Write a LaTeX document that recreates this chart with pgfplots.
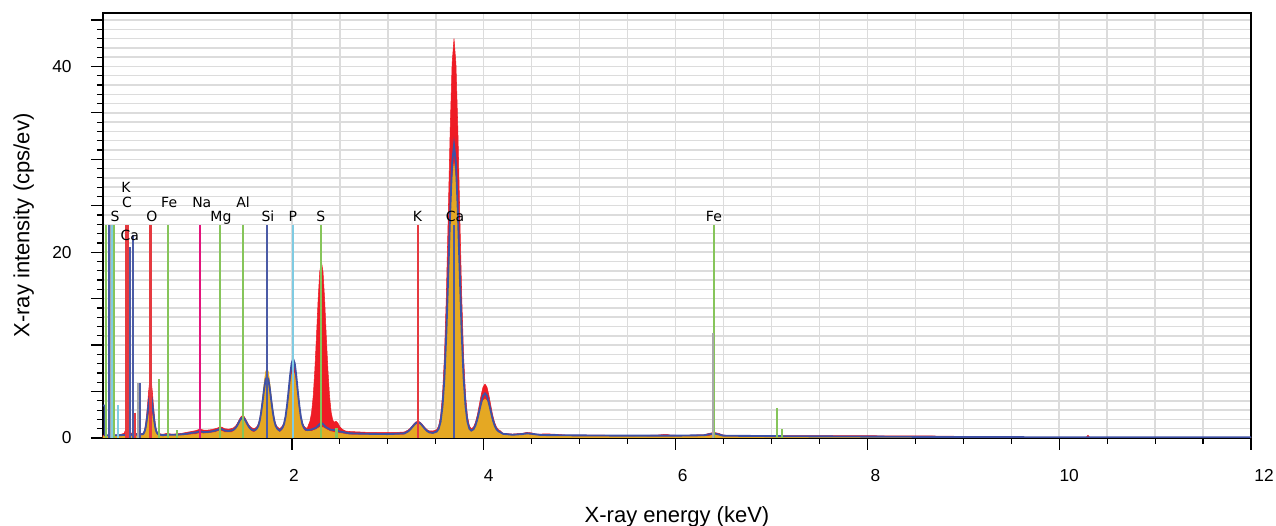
\documentclass[border=0pt]{standalone}
\usepackage{fontspec}
\setmainfont{Liberation Sans}
\newfontfamily\lblfont{DejaVu Sans}
\usepackage{pgfplots}
\pgfplotsset{compat=1.18}

\definecolor{specred}{HTML}{EE1C25}
\definecolor{specblue}{HTML}{3F51A5}
\definecolor{specgold}{HTML}{E5A823}
\definecolor{mkgreen}{HTML}{86C55A}
\definecolor{mkred}{HTML}{E53A40}
\definecolor{mkblue}{HTML}{4B5BA6}
\definecolor{mkcyan}{HTML}{7FCBE2}
\definecolor{mkmag}{HTML}{E4137B}
\definecolor{mkgray}{HTML}{A8A8A8}
\definecolor{gridgray}{HTML}{DCDCDC}

\begin{document}
\begin{tikzpicture}
\begin{axis}[
    scale only axis,
    width=861pt, height=318.75pt,
    xmin=0.03, xmax=12,
    ymin=0, ymax=45.75,
    xtick={2,4,...,12},
    xticklabels={\hspace*{3pt}2,\hspace*{7.5pt}4,\hspace*{10.5pt}6,\hspace*{12pt}8,\hspace*{15pt}10,\hspace*{19.5pt}12},
    minor x tick num=3,
    ytick={0,5,...,45},
    yticklabels={0,,,,20,,,,40,},
    minor y tick num=4,
    grid=both,
    every axis grid/.style={gridgray, line width=1.1pt},
    every major grid/.style={gridgray, line width=1.1pt},
    every minor grid/.style={gridgray, line width=1.1pt},
    tick align=outside,
    tick pos=left,
    major tick length=9pt,
    minor tick length=4.5pt,
    every tick/.style={black, line width=0.9pt},
    axis line style={black, line width=1pt},
    tick label style={font=\fontsize{13}{15}\selectfont},
    xticklabel style={yshift=-11pt},
    yticklabel style={xshift=-11pt},
    /pgf/number format/assume math mode=true,
    label style={font=\fontsize{16.5}{19}\selectfont},
    xlabel={X-ray energy (keV)},
    ylabel={X-ray intensity (cps/ev)},
    xlabel style={at={(axis description cs:0.5,-0.185)}, anchor=center},
    ylabel style={at={(axis description cs:-0.0690,0.5)}, anchor=center},
]

% spectrum 1 (red)
\addplot[draw=specred, line width=0.4pt, fill=specred] coordinates {
(0.03,0.3)(0.1,0.3)(0.2,0.35)(0.25,0.5)(0.27,1.0)(0.29,0.7)(0.33,0.5)(0.36,0.6)(0.365,2.7)(0.37,0.5)(0.41,0.45)
(0.445,0.49)(0.455,0.64)(0.465,0.93)(0.475,1.52)(0.485,2.47)(0.495,3.65)(0.505,4.94)(0.515,5.95)(0.525,6.3)(0.535,5.95)(0.545,4.94)(0.555,3.65)(0.565,2.47)(0.575,1.52)(0.585,0.93)(0.595,0.64)(0.605,0.49)
(0.65,0.4)(0.7,0.5)(0.75,0.4)(0.8,0.45)(0.85,0.5)(0.9,0.6)(0.95,0.7)(1.0,0.8)(1.02,0.88)(1.04,0.95)(1.06,0.9)(1.08,0.85)(1.12,0.85)(1.16,0.9)(1.2,1.0)(1.23,1.1)(1.25,1.2)(1.27,1.15)(1.3,1.0)(1.34,0.95)(1.365,1.0)
(1.381,1.05)(1.396,1.13)(1.411,1.27)(1.426,1.49)(1.441,1.77)(1.456,2.08)(1.471,2.32)(1.486,2.4)(1.501,2.32)(1.516,2.08)(1.531,1.77)(1.546,1.49)(1.561,1.27)(1.576,1.13)(1.591,1.05)(1.605,1.0)
(1.62,1.09)(1.635,1.23)(1.65,1.52)(1.665,2.10)(1.68,3.03)(1.695,4.19)(1.71,5.47)(1.725,6.45)(1.74,6.8)(1.755,6.45)(1.77,5.47)(1.785,4.19)(1.8,3.03)(1.815,2.10)(1.83,1.52)(1.845,1.23)(1.86,1.09)(1.872,1.0)
(1.885,1.11)(1.901,1.29)(1.917,1.66)(1.933,2.39)(1.949,3.55)(1.965,5.02)(1.981,6.62)(1.997,7.86)(2.013,8.3)(2.029,7.86)(2.045,6.62)(2.061,5.02)(2.077,3.55)(2.093,2.39)(2.109,1.66)(2.125,1.29)(2.141,1.11)(2.16,1.05)
(2.171,1.36)(2.188,1.8)(2.205,2.76)(2.222,4.52)(2.239,7.36)(2.256,10.95)(2.273,14.9)(2.29,17.9)(2.307,19.0)(2.324,17.9)(2.341,14.9)(2.358,10.95)(2.375,7.36)(2.392,4.52)(2.409,2.76)(2.426,1.9)(2.443,1.7)(2.46,1.8)(2.48,1.6)(2.5,1.2)(2.53,0.9)(2.56,0.75)
(2.6,0.7)(2.7,0.65)(2.8,0.6)(2.9,0.6)(3.0,0.6)(3.1,0.6)(3.173,0.65)
(3.193,0.76)(3.213,0.87)(3.233,1.05)(3.253,1.28)(3.273,1.54)(3.293,1.73)(3.313,1.8)(3.333,1.73)(3.353,1.54)(3.373,1.28)(3.393,1.05)(3.413,0.87)(3.433,0.76)(3.47,0.75)
(3.51,0.9)(3.53,1.31)(3.55,2.35)(3.57,4.61)(3.59,8.78)(3.61,15.38)(3.63,24.05)(3.65,33.2)(3.67,40.3)(3.69,43.0)(3.71,40.3)(3.73,33.2)(3.75,24.05)(3.77,15.38)(3.79,8.78)(3.81,4.61)(3.83,2.35)(3.85,1.31)(3.87,1.0)
(3.893,1.17)(3.913,1.67)(3.933,2.47)(3.953,3.52)(3.973,4.63)(3.993,5.5)(4.013,5.8)(4.033,5.5)(4.053,4.63)(4.073,3.52)(4.093,2.47)(4.113,1.67)(4.133,1.17)(4.153,0.9)(4.173,0.78)
(4.2,0.5)(4.3,0.42)(4.4,0.5)(4.45,0.6)(4.5,0.55)(4.55,0.4)(4.65,0.45)(4.75,0.4)(4.85,0.32)(5.0,0.3)(5.2,0.3)(5.4,0.28)(5.6,0.28)(5.8,0.3)(5.9,0.4)(5.95,0.3)(6.1,0.28)(6.3,0.35)(6.35,0.5)(6.4,0.6)(6.45,0.5)(6.5,0.3)
(6.7,0.25)(7.0,0.25)(7.5,0.25)(8.0,0.25)(8.3,0.22)(8.6,0.22)(8.9,0.2)(8.92,0.04)(10.28,0.04)(10.3,0.3)(10.32,0.04)(12,0.04)
} \closedcycle;

% spectrum 3 (gold)
\addplot[draw=specgold, line width=0.4pt, fill=specgold] coordinates {
(0.03,0.2)(0.2,0.2)(0.43,0.25)
(0.445,0.29)(0.455,0.36)(0.465,0.5)(0.475,0.77)(0.485,1.21)(0.495,1.76)(0.505,2.37)(0.515,2.84)(0.525,3.0)(0.535,2.84)(0.545,2.37)(0.555,1.76)(0.565,1.21)(0.575,0.77)(0.585,0.5)(0.595,0.36)(0.605,0.29)
(0.7,0.25)(0.9,0.3)(1.0,0.4)(1.04,0.5)(1.08,0.45)(1.2,0.6)(1.25,0.8)(1.3,0.6)(1.365,0.6)
(1.381,0.65)(1.396,0.73)(1.411,0.87)(1.426,1.09)(1.441,1.37)(1.456,1.68)(1.471,1.92)(1.486,2.0)(1.501,1.92)(1.516,1.68)(1.531,1.37)(1.546,1.09)(1.561,0.87)(1.576,0.73)(1.591,0.65)(1.605,0.62)
(1.62,0.7)(1.635,0.88)(1.65,1.22)(1.665,1.91)(1.68,3.02)(1.695,4.4)(1.71,5.91)(1.725,7.09)(1.74,7.5)(1.755,7.09)(1.77,5.91)(1.785,4.4)(1.8,3.02)(1.815,1.91)(1.83,1.22)(1.845,0.88)(1.86,0.7)(1.872,0.62)
(1.885,0.7)(1.901,0.86)(1.917,1.19)(1.933,1.86)(1.949,2.91)(1.965,4.24)(1.981,5.68)(1.997,6.8)(2.013,7.2)(2.029,6.8)(2.045,5.68)(2.061,4.24)(2.077,2.91)(2.093,1.86)(2.109,1.19)(2.125,0.86)(2.141,0.7)
(2.2,0.7)(2.25,0.9)(2.3,1.2)(2.32,1.15)(2.36,0.9)(2.4,0.7)(2.5,0.5)(2.6,0.35)(3.0,0.3)(3.173,0.35)
(3.193,0.46)(3.213,0.57)(3.233,0.75)(3.253,0.98)(3.273,1.24)(3.293,1.43)(3.313,1.5)(3.333,1.43)(3.353,1.24)(3.373,0.98)(3.393,0.75)(3.413,0.57)(3.433,0.46)(3.47,0.45)(3.51,0.55)
(3.53,0.87)(3.55,1.58)(3.57,3.14)(3.59,6.0)(3.61,10.53)(3.63,16.49)(3.65,22.75)(3.67,27.65)(3.69,29.5)(3.71,27.65)(3.73,22.75)(3.75,16.49)(3.77,10.53)(3.79,6.0)(3.81,3.14)(3.83,1.58)(3.85,0.87)(3.87,0.65)
(3.893,0.8)(3.913,1.17)(3.933,1.75)(3.953,2.52)(3.973,3.34)(3.993,3.98)(4.013,4.2)(4.033,3.98)(4.053,3.34)(4.073,2.52)(4.093,1.75)(4.113,1.17)(4.133,0.8)(4.153,0.6)(4.173,0.51)
(4.3,0.25)(4.45,0.4)(4.6,0.22)(5.0,0.18)(6.0,0.15)(6.35,0.2)(6.42,0.4)(6.5,0.15)(7.0,0.1)(9.0,0.05)(12,0.04)
} \closedcycle;

% spectrum 2 (blue)
\addplot[specblue, line width=1.4pt] coordinates {
(0.03,3.5)(0.048,3.5)(0.05,0.3)(0.1,0.3)(0.2,0.3)(0.3,0.35)(0.4,0.4)(0.43,0.4)
(0.445,0.41)(0.455,0.52)(0.465,0.73)(0.475,1.16)(0.485,1.84)(0.495,2.69)(0.505,3.62)(0.515,4.35)(0.525,4.6)(0.535,4.35)(0.545,3.62)(0.555,2.69)(0.565,1.84)(0.575,1.16)(0.585,0.73)(0.595,0.52)(0.605,0.41)
(0.65,0.3)(0.7,0.35)(0.8,0.35)(0.9,0.45)(0.95,0.55)(1.0,0.6)(1.02,0.66)(1.04,0.72)(1.06,0.68)(1.08,0.65)(1.12,0.65)(1.16,0.7)(1.2,0.8)(1.23,0.9)(1.25,1.0)(1.27,0.95)(1.3,0.8)(1.34,0.75)(1.365,0.8)
(1.381,0.85)(1.396,0.93)(1.411,1.07)(1.426,1.29)(1.441,1.57)(1.456,1.88)(1.471,2.12)(1.486,2.2)(1.501,2.12)(1.516,1.88)(1.531,1.57)(1.546,1.29)(1.561,1.07)(1.576,0.93)(1.591,0.85)(1.605,0.82)
(1.62,0.89)(1.635,1.03)(1.65,1.32)(1.665,1.9)(1.68,2.83)(1.695,3.99)(1.71,5.27)(1.725,6.25)(1.74,6.6)(1.755,6.25)(1.77,5.27)(1.785,3.99)(1.8,2.83)(1.815,1.9)(1.83,1.32)(1.845,1.03)(1.86,0.89)(1.872,0.8)
(1.885,0.92)(1.901,1.11)(1.917,1.49)(1.933,2.27)(1.949,3.5)(1.965,5.05)(1.981,6.73)(1.997,8.04)(2.013,8.5)(2.029,8.04)(2.045,6.73)(2.061,5.05)(2.077,3.5)(2.093,2.27)(2.109,1.49)(2.125,1.11)(2.141,0.92)
(2.16,0.85)(2.2,0.9)(2.25,1.1)(2.28,1.4)(2.3,1.6)(2.32,1.55)(2.35,1.2)(2.4,0.9)(2.46,0.85)(2.5,0.7)(2.6,0.5)(2.8,0.45)(3.0,0.42)(3.173,0.5)
(3.193,0.61)(3.213,0.73)(3.233,0.92)(3.253,1.16)(3.273,1.42)(3.293,1.62)(3.313,1.7)(3.333,1.62)(3.353,1.42)(3.373,1.16)(3.393,0.92)(3.413,0.73)(3.433,0.61)(3.47,0.55)(3.51,0.7)
(3.53,1.0)(3.55,1.76)(3.57,3.42)(3.59,6.47)(3.61,11.31)(3.63,17.65)(3.65,24.35)(3.67,29.6)(3.69,31.5)(3.71,29.6)(3.73,24.35)(3.75,17.65)(3.77,11.31)(3.79,6.47)(3.81,3.42)(3.83,1.76)(3.85,1.0)(3.87,0.8)
(3.893,0.94)(3.913,1.36)(3.933,2.02)(3.953,2.9)(3.973,3.82)(3.993,4.55)(4.013,4.8)(4.033,4.55)(4.053,3.82)(4.073,2.9)(4.093,2.02)(4.113,1.36)(4.133,0.94)(4.153,0.72)(4.173,0.62)
(4.2,0.45)(4.3,0.35)(4.4,0.42)(4.45,0.5)(4.5,0.45)(4.6,0.32)(4.8,0.3)(5.0,0.28)(5.5,0.25)(6.0,0.25)(6.3,0.3)(6.4,0.5)(6.5,0.25)(7.0,0.2)(8.0,0.15)(9.0,0.1)(10,0.08)(12,0.08)
};

% element marker lines
\addplot[ycomb, mkgreen, line width=1.6pt] coordinates {
(0.065,22.9)(0.146,22.9)(0.705,22.9)(1.254,22.9)(1.486,22.9)(2.307,22.9)(6.405,22.9)
(0.615,6.4)(0.8,0.9)(2.464,1.1)(7.058,3.2)(7.11,1.0)};
\addplot[ycomb, mkred, line width=1.6pt] coordinates {
(0.27,22.9)(0.285,22.9)(0.525,22.9)(3.313,22.9)(0.365,2.7)};
\addplot[ycomb, mkblue, line width=1.6pt] coordinates {
(0.096,22.9)(0.3125,20.6)(0.347,21.8)(1.74,22.9)(3.69,22.9)(0.413,5.9)};
\addplot[ycomb, mkgray, line width=1.2pt] coordinates {
(0.11,22.9)(0.396,5.9)(6.39,11.3)};
\addplot[ycomb, mkcyan, line width=1.6pt] coordinates {
(0.12,22.9)(2.013,22.9)(0.19,3.5)};
\addplot[ycomb, mkmag, line width=1.6pt] coordinates {(1.041,22.9)};

% element labels
\begin{scope}[every node/.style={font=\lblfont\fontsize{10.5}{12}\selectfont, anchor=base, inner sep=0pt}]
\node at (axis cs:0.156,23.3) {S};
\node at (axis cs:0.27,26.4) {K};
\node at (axis cs:0.28,24.8) {C};
\node at (axis cs:0.31,21.3) {Ca};
\node at (axis cs:0.54,23.3) {O};
\node at (axis cs:0.72,24.8) {Fe};
\node at (axis cs:1.06,24.8) {Na};
\node at (axis cs:1.26,23.3) {Mg};
\node at (axis cs:1.49,24.8) {Al};
\node at (axis cs:1.75,23.3) {Si};
\node at (axis cs:2.01,23.3) {P};
\node at (axis cs:2.30,23.3) {S};
\node at (axis cs:3.31,23.3) {K};
\node at (axis cs:3.70,23.3) {Ca};
\node at (axis cs:6.40,23.3) {Fe};
\end{scope}

\coordinate (bl) at (rel axis cs:0,0);
\coordinate (tr) at (rel axis cs:1,1);
\end{axis}
\pgfresetboundingbox
\path ([shift={(-77.25pt,-66pt)}]bl) rectangle ([shift={(18.75pt,9.75pt)}]tr);
\end{tikzpicture}
\end{document}
